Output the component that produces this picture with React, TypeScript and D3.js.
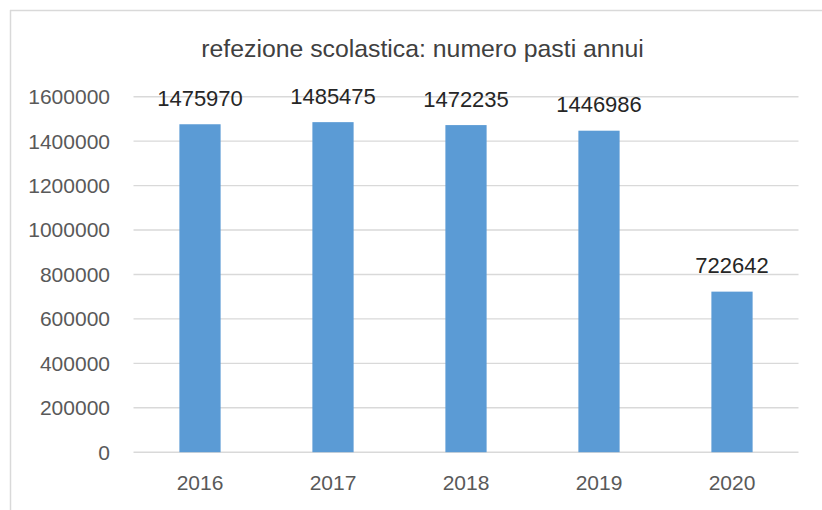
import React from "react";
import * as d3 from "d3";

const title = "refezione scolastica: numero pasti annui";
const years = ["2016", "2017", "2018", "2019", "2020"];
const meals = [1475970, 1485475, 1472235, 1446986, 722642];
const yTicks = [0, 200000, 400000, 600000, 800000, 1000000, 1200000, 1400000, 1600000];

const W = 822;
const H = 510;
const plot = { left: 133.5, right: 798.5, top: 96.7, bottom: 452.2 };
const FONT = "'Liberation Sans', Arial, sans-serif";

export default function App() {
  const x = d3
    .scaleBand<string>()
    .domain(years)
    .range([plot.left, plot.right])
    .paddingInner(0.69)
    .paddingOuter(0.345);
  const y = d3.scaleLinear().domain([0, 1600000]).range([plot.bottom, plot.top]);

  return (
    <svg
      width={W}
      height={H}
      style={{ position: "absolute", left: 0, top: 0, background: "#fff" }}
    >
      <rect x={0} y={0} width={W} height={H} fill="#fff" />
      {/* chart area border */}
      <line x1={10} y1={10.5} x2={W} y2={10.5} stroke="#D9D9D9" strokeWidth={1.5} />
      <line x1={10.5} y1={10} x2={10.5} y2={H} stroke="#D9D9D9" strokeWidth={1.5} />

      <text
        x={422.5}
        y={57}
        textAnchor="middle"
        fontFamily={FONT}
        fontSize={24.8}
        fill="#404040"
      >
        {title}
      </text>

      {yTicks.map((t) => (
        <g key={t}>
          <line
            x1={plot.left}
            x2={plot.right}
            y1={y(t)}
            y2={y(t)}
            stroke="#D9D9D9"
            strokeWidth={1.4}
          />
          <text
            x={110}
            y={y(t) + 7.4}
            textAnchor="end"
            fontFamily={FONT}
            fontSize={21}
            fill="#595959"
          >
            {t}
          </text>
        </g>
      ))}

      {years.map((yr, i) => {
        const bx = x(yr)!;
        const bw = x.bandwidth();
        const top = y(meals[i]);
        return (
          <g key={yr}>
            <rect x={bx} y={top} width={bw} height={plot.bottom - top} fill="#5B9BD5" />
            <text
              x={bx + bw / 2}
              y={top - 18.5}
              textAnchor="middle"
              fontFamily={FONT}
              fontSize={22}
              fill="#262626"
            >
              {meals[i]}
            </text>
            <text
              x={bx + bw / 2}
              y={490}
              textAnchor="middle"
              fontFamily={FONT}
              fontSize={21}
              fill="#595959"
            >
              {yr}
            </text>
          </g>
        );
      })}
    </svg>
  );
}
